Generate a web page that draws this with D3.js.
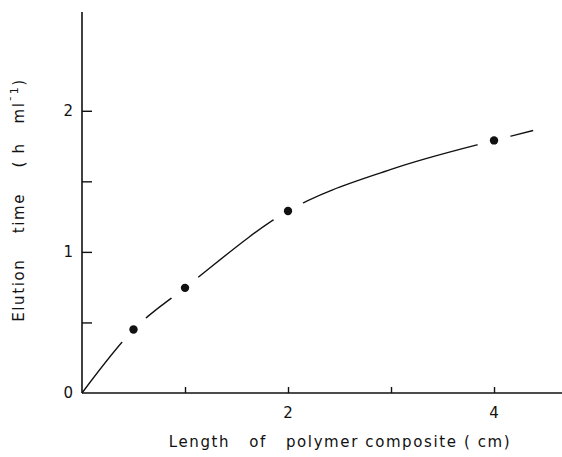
<!DOCTYPE html>
<html>
<head>
<meta charset="utf-8">
<script src="https://cdn.jsdelivr.net/npm/d3@7"></script>
<style>
  html, body { margin: 0; padding: 0; background: #fff; }
  svg text { font-family: "DejaVu Sans", "Liberation Sans", sans-serif; fill: #111; white-space: pre; }
</style>
</head>
<body>
<svg id="chart" width="562" height="457"></svg>
<script>
// Measured elution times for each composite length
const lengthsCm = [0.5, 1, 2, 4];
const elutionTimes = [0.45, 0.745, 1.29, 1.79];

// Smooth trend curve drawn through the measurements
const curveLengths = [0, 0.5, 1, 2, 3, 4, 4.38];
const curveTimes   = [0, 0.45, 0.745, 1.29, 1.585, 1.79, 1.86];

// Axis ticks and labels
const xTicks = [1, 2, 3, 4];
const xTickLabels = { 2: "2", 4: "4" };
const yTicks = [0, 0.5, 1, 1.5, 2];
const yTickLabels = { 0: "0", 1: "1", 2: "2" };

const svg = d3.select("#chart");

const x = d3.scaleLinear().domain([0, 4.66]).range([82, 562]);
const y = d3.scaleLinear().domain([0, 2.7]).range([393, 12]);

const ink = "#111";

// Axes
const xAxis = d3.axisBottom(x).tickValues(xTicks).tickSize(-6).tickFormat(() => "");
svg.append("g").attr("transform", `translate(0,${y(0)})`).call(xAxis)
  .call(g => g.select(".domain").attr("d", `M${x(0)},0H562`).attr("stroke", ink).attr("stroke-width", 1.6))
  .call(g => g.selectAll(".tick line").attr("stroke", ink).attr("stroke-width", 1.4));

const yAxis = d3.axisLeft(y).tickValues(yTicks.filter(v => v > 0)).tickSize(-10).tickFormat(() => "");
svg.append("g").attr("transform", `translate(${x(0)},0)`).call(yAxis)
  .call(g => g.select(".domain").attr("d", `M0,${y(0)}V${y(2.7)}`).attr("stroke", ink).attr("stroke-width", 1.6))
  .call(g => g.selectAll(".tick line").attr("stroke", ink).attr("stroke-width", 1.4));

// Tick labels
svg.append("g").selectAll("text").data(xTicks.filter(v => xTickLabels[v]))
  .join("text")
  .attr("x", d => x(d)).attr("y", y(0) + 25)
  .attr("text-anchor", "middle").attr("font-size", 15)
  .text(d => xTickLabels[d]);

svg.append("g").selectAll("text").data(yTicks.filter(v => yTickLabels[v] !== undefined))
  .join("text")
  .attr("x", x(0) - 9).attr("y", d => y(d) + 5)
  .attr("text-anchor", "end").attr("font-size", 15)
  .text(d => yTickLabels[d]);

// Axis titles
svg.append("text")
  .attr("x", 340).attr("y", 447)
  .attr("text-anchor", "middle").attr("font-size", 15).attr("letter-spacing", 1.6)
  .text("Length   of   polymer composite ( cm)");

const yTitle = svg.append("text")
  .attr("transform", "translate(24,200) rotate(-90)")
  .attr("text-anchor", "middle").attr("font-size", 15).attr("letter-spacing", 1.6);
yTitle.append("tspan").text("Elution    time    ( h   ml");
yTitle.append("tspan").attr("baseline-shift", "super").attr("font-size", 11).text("\u00AF1");
yTitle.append("tspan").text(")");

// Trend curve
const line = d3.line()
  .x((d, i) => x(curveLengths[i]))
  .y((d, i) => y(curveTimes[i]))
  .curve(d3.curveMonotoneX);

svg.append("path")
  .datum(curveLengths)
  .attr("d", line)
  .attr("fill", "none").attr("stroke", ink).attr("stroke-width", 1.4);

// White gaps around each measurement, then the dots
const pts = lengthsCm.map((v, i) => [v, elutionTimes[i]]);
svg.append("g").selectAll("circle").data(pts).join("circle")
  .attr("cx", d => x(d[0])).attr("cy", d => y(d[1]))
  .attr("r", 17).attr("fill", "#fff");

svg.append("g").selectAll("circle").data(pts).join("circle")
  .attr("cx", d => x(d[0])).attr("cy", d => y(d[1]))
  .attr("r", 4.2).attr("fill", ink);
</script>
</body>
</html>
